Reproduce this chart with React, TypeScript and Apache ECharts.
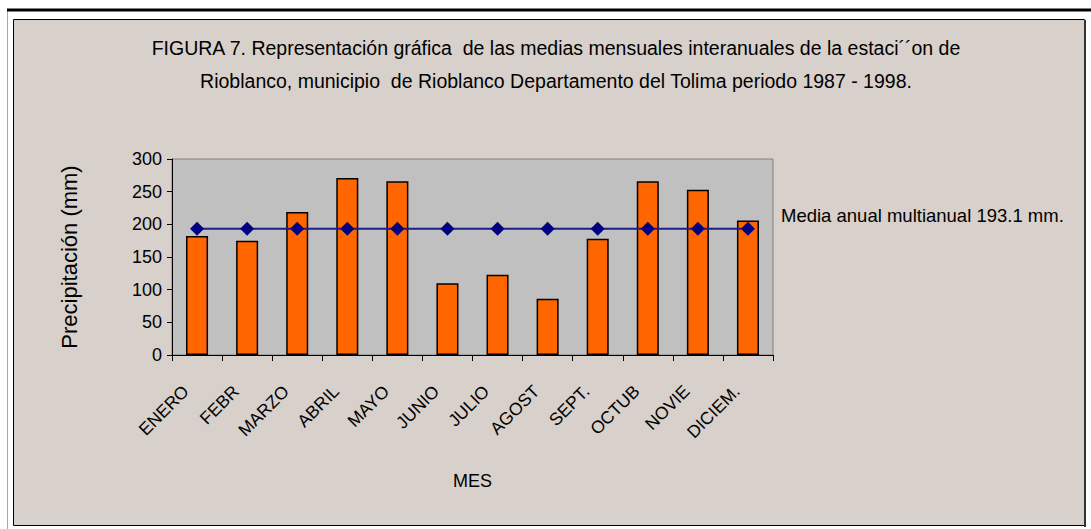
import React, { useEffect, useRef } from "react";
import * as echarts from "echarts";

const months = ["ENERO", "FEBR", "MARZO", "ABRIL", "MAYO", "JUNIO", "JULIO", "AGOST", "SEPT.", "OCTUB", "NOVIE", "DICIEM."];
const precip = [182, 175, 219, 271, 266, 110, 123, 86, 178, 266, 253, 206];
const annualMean = 193.1;
const meanLine = months.map(() => annualMean);
const yTicks = { min: 0, max: 300, interval: 50 };

const titleLines = [
  "FIGURA 7. Representación gráfica  de las medias mensuales interanuales de la estaci´´on de",
  "Rioblanco, municipio  de Rioblanco Departamento del Tolima periodo 1987 - 1998.",
];
const meanLabel = "Media anual multianual 193.1 mm.";

const NARROW = "'Liberation Sans Narrow', 'Arial Narrow', 'Liberation Sans', Arial, sans-serif";
const SANS = "'Liberation Sans', Arial, sans-serif";

export default function App() {
  const ref = useRef<HTMLDivElement>(null);
  useEffect(() => {
    if (!ref.current) return;
    const chart = echarts.init(ref.current, null, { renderer: "svg" });
    chart.setOption({
      animation: false,
      backgroundColor: "#ffffff",
      title: {
        text: titleLines.join("\n"),
        left: 551,
        top: 26,
        textAlign: "center",
        z: 10,
        textStyle: { fontFamily: NARROW, fontSize: 19.5, fontWeight: "normal", color: "#000", lineHeight: 33 },
      },
      grid: {
        left: 172,
        right: 318,
        top: 159,
        bottom: 174,
        show: true,
        backgroundColor: "#c0c0c0",
        borderColor: "#808080",
        borderWidth: 1,
        z: 1,
      },
      xAxis: {
        type: "category",
        data: months,
        z: 5,
        name: "MES",
        nameLocation: "middle",
        nameGap: 117,
        nameTextStyle: { fontFamily: NARROW, fontSize: 18, color: "#000" },
        axisLine: { lineStyle: { color: "#000", width: 1 } },
        axisTick: { show: true, length: 6, lineStyle: { color: "#000" } },
        axisLabel: {
          rotate: 45,
          interval: 0,
          margin: 22,
          padding: [0, 16, 0, 0],
          fontFamily: NARROW,
          fontSize: 17.5,
          color: "#000",
        },
      },
      yAxis: {
        type: "value",
        min: yTicks.min,
        max: yTicks.max,
        interval: yTicks.interval,
        z: 5,
        name: "Precipitación (mm)",
        nameLocation: "middle",
        nameGap: 92,
        nameTextStyle: { fontFamily: SANS, fontSize: 22, color: "#000" },
        axisLine: { show: true, lineStyle: { color: "#000", width: 1 } },
        axisTick: { show: true, length: 5, lineStyle: { color: "#000" } },
        splitLine: { show: false },
        axisLabel: { fontFamily: SANS, fontSize: 18, color: "#000", margin: 10 },
      },
      series: [
        {
          type: "bar",
          data: precip,
          barWidth: "44%",
          z: 6,
          itemStyle: { color: "#ff6600", borderColor: "#000", borderWidth: 1.5 },
        },
        {
          type: "line",
          data: meanLine,
          z: 7,
          symbol: "diamond",
          symbolSize: 14,
          itemStyle: { color: "#000080" },
          lineStyle: { color: "#1f1f8c", width: 2 },
        },
      ],
      graphic: [
        { type: "line", z: 0, shape: { x1: 7.5, y1: 10, x2: 7.5, y2: 529 }, style: { stroke: "#a8a8a8", lineWidth: 1 } },
        { type: "line", z: 0, shape: { x1: 7, y1: 10, x2: 1091, y2: 10 }, style: { stroke: "#000", lineWidth: 3 } },
        { type: "rect", z: 0, shape: { x: 13.5, y: 19.5, width: 1071, height: 506 }, style: { fill: "#d8d0ca", stroke: "#000", lineWidth: 1 } },
        { type: "line", z: 0, shape: { x1: 1085, y1: 20, x2: 1085, y2: 527 }, style: { stroke: "#333", lineWidth: 2 } },
        {
          type: "text",
          z: 10,
          x: 781,
          y: 215,
          style: { text: meanLabel, fontFamily: NARROW, fontSize: 18.5, fill: "#000", textVerticalAlign: "middle", verticalAlign: "middle" },
        },
      ],
    });
    return () => chart.dispose();
  }, []);
  return <div ref={ref} style={{ position: "fixed", left: 0, top: 0, width: 1091, height: 529 }} />;
}
